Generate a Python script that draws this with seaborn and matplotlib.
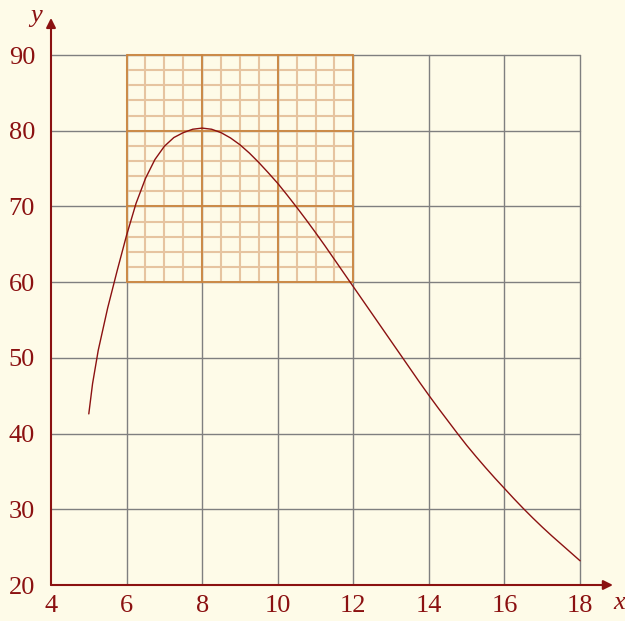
import numpy as np
import pandas as pd
import matplotlib
matplotlib.use("Agg")
import matplotlib.pyplot as plt
import seaborn as sns

# ---- data ----
curve_x = [5.0, 5.1, 5.25, 5.5, 5.75, 6.0, 6.25, 6.5, 6.75, 7.0, 7.25, 7.5, 7.75, 8.0,
           8.25, 8.5, 8.75, 9.0, 9.25, 9.5, 9.75, 10.0, 10.25, 10.5, 10.75, 11.0,
           11.25, 11.5, 11.75, 12.0, 12.25, 12.5, 12.75, 13.0, 13.25, 13.5, 13.75,
           14.0, 14.25, 14.5, 14.75, 15.0, 15.25, 15.5, 15.75, 16.0, 16.25, 16.5,
           16.75, 17.0, 17.25, 17.5, 17.75, 18.0]
curve_y = [42.6, 46.6, 51.0, 56.6, 61.5, 66.2, 70.4, 73.7, 76.2, 77.95, 79.1, 79.75, 80.2, 80.35,
           80.2, 79.75, 79.05, 78.15, 77.05, 75.8, 74.45, 73.05, 71.5, 69.9, 68.25, 66.55,
           64.8, 63.0, 61.2, 59.4, 57.6, 55.8, 54.0, 52.2, 50.4, 48.6, 46.8,
           45.05, 43.35, 41.7, 40.05, 38.45, 36.95, 35.5, 34.1, 32.75, 31.4, 30.1,
           28.85, 27.65, 26.5, 25.4, 24.3, 23.2]
x_ticks = [4, 6, 8, 10, 12, 14, 16, 18]
y_ticks = [20, 30, 40, 50, 60, 70, 80, 90]
zoom_x = [6, 12]
zoom_y = [60, 90]

BG = "#FEFBE8"
RED = "#8B1111"
GREY = "#7F7F7F"
ORANGE = "#C98540"
ORANGE_L = "#E6C4A0"

sns.set_theme(style="white")
plt.rcParams["font.family"] = ["Liberation Serif", "DejaVu Serif"]

fig = plt.figure(figsize=(6.25, 6.21), dpi=100, facecolor=BG)
ax = fig.add_axes([51 / 625, 36 / 621, 574.4 / 625, 571.6 / 621])
ax.set_facecolor(BG)
ax.set_xlim(4, 19.2)
ax.set_ylim(20, 95.5)

# grey main grid
for xv in x_ticks[1:]:
    ax.plot([xv, xv], [y_ticks[0], y_ticks[-1]], color=GREY, lw=1.0, zorder=1)
for yv in y_ticks[1:]:
    ax.plot([x_ticks[0], x_ticks[-1]], [yv, yv], color=GREY, lw=1.0, zorder=1)

# orange zoom grid (minor then major)
for xv in np.arange(zoom_x[0], zoom_x[1] + 0.01, 0.5):
    ax.plot([xv, xv], zoom_y, color=ORANGE_L, lw=1.5, zorder=2)
for yv in np.arange(zoom_y[0], zoom_y[1] + 0.01, 2):
    ax.plot(zoom_x, [yv, yv], color=ORANGE_L, lw=1.5, zorder=2)
for xv in np.arange(zoom_x[0], zoom_x[1] + 0.01, 2):
    ax.plot([xv, xv], zoom_y, color=ORANGE, lw=1.3, zorder=3)
for yv in np.arange(zoom_y[0], zoom_y[1] + 0.01, 10):
    ax.plot(zoom_x, [yv, yv], color=ORANGE, lw=1.3, zorder=3)

df = pd.DataFrame({"x": curve_x, "y": curve_y})
sns.lineplot(data=df, x="x", y="y", ax=ax, color=RED, linewidth=1.0,
             sort=False, estimator=None, zorder=5)
for ln in ax.lines[-1:]:
    ln.set_solid_joinstyle("round")

for s in ax.spines.values():
    s.set_visible(False)

# axes with arrows
ax.annotate("", xy=(18.87, 20), xytext=(4, 20),
            arrowprops=dict(arrowstyle="-|>", color=RED, lw=1.5, mutation_scale=14,
                            shrinkA=0, shrinkB=0), zorder=6, annotation_clip=False)
ax.annotate("", xy=(4, 94.9), xytext=(4, 20),
            arrowprops=dict(arrowstyle="-|>", color=RED, lw=1.5, mutation_scale=14,
                            shrinkA=0, shrinkB=0), zorder=6, annotation_clip=False)

ax.set_xticks(x_ticks)
ax.set_yticks(y_ticks)
ax.set_xticklabels([str(v) for v in x_ticks])
ax.set_yticklabels([str(v) for v in y_ticks])
ax.tick_params(axis="both", direction="inout", length=9, width=1.6, colors=RED,
               labelsize=19, labelcolor=RED)
ax.tick_params(axis="x", pad=3)
ax.tick_params(axis="y", pad=7)
ax.set_xlabel("")
ax.set_ylabel("")

ax.text(19.03, 17.6, "x", color=RED, fontsize=19, style="italic",
        ha="center", va="center", clip_on=False)
ax.text(3.6, 95.2, "y", color=RED, fontsize=19, style="italic",
        ha="center", va="center", clip_on=False)

fig.savefig("out.png", dpi=100, facecolor=BG)
